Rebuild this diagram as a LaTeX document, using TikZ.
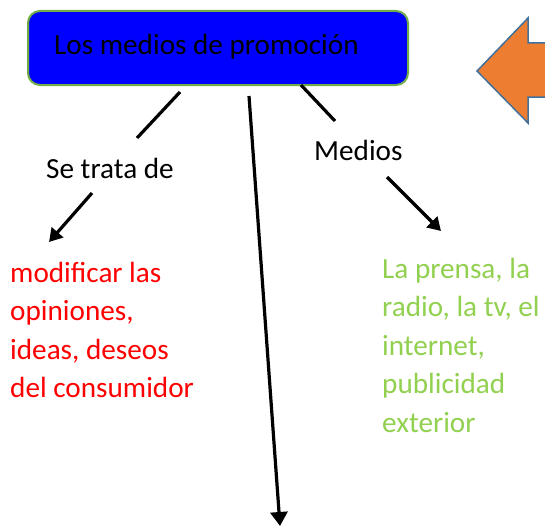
\documentclass[tikz,border=0pt]{standalone}
\usepackage{fontspec}
\setmainfont{Carlito}
\usetikzlibrary{arrows.meta}
\definecolor{boxblue}{RGB}{0,0,255}
\definecolor{boxgreen}{RGB}{112,173,71}
\definecolor{txtgreen}{RGB}{146,208,80}
\definecolor{arrorange}{RGB}{237,125,49}
\definecolor{arrblue}{RGB}{65,113,156}
\tikzset{
  titlebox/.style={draw=boxgreen, line width=2pt, fill=boxblue, rounded corners=12pt,
    minimum width=380pt, minimum height=74pt, inner sep=0pt},
  lbl/.style={inner sep=0pt, font=\fontsize{29.2}{38.5}\selectfont, align=left},
  conn/.style={line width=3.2pt},
  arr/.style={line width=3.2pt, -{Triangle[length=13pt,width=15pt]}},
  bigarr/.style={line width=3.2pt, -{Triangle[length=14pt,width=17pt]}},
}
\begin{document}
\begin{tikzpicture}[x=1pt,y=-1pt]
\clip (0,0) rectangle (545,527);
\fill[white] (0,0) rectangle (545,527);
% title box
\node[titlebox] (box) at (218,48) {};
\node[lbl, anchor=base west] (title) at (54,55) {Los medios de promoción};
% labels
\node[lbl, anchor=base west] (setrata) at (46,178) {Se trata de};
\node[lbl, anchor=base west] (medios) at (314,160) {Medios};
% multi-line nodes: base anchor is the baseline of the last line
\node[lbl, anchor=base west, text=red] (red) at (10,397.5)
  {modificar las\\opiniones,\\ideas, deseos\\del consumidor};
\node[lbl, anchor=base west, text=txtgreen] (green) at (382,432)
  {La prensa, la\\radio, la tv, el\\internet,\\publicidad\\exterior};
% connector end points
\coordinate (a1) at (180,92);
\coordinate (a2) at (137,138);
\coordinate (b1) at (92,193);
\coordinate (b2) at (49,242);
\coordinate (c1) at (249,96);
\coordinate (c2) at (280,526);
\coordinate (d1) at (301,85);
\coordinate (d2) at (335,121);
\coordinate (e1) at (387,177);
\coordinate (e2) at (441,231);
\draw[conn] (a1) -- (a2);
\draw[arr] (b1) -- (b2);
\draw[bigarr] (c1) -- (c2);
\draw[conn] (d1) -- (d2);
\draw[arr] (e1) -- (e2);
% orange block arrow
\draw[fill=arrorange, draw=arrblue, line width=1.5pt, line join=miter]
  (477,71) -- (528,18) -- (528,43) -- (560,43) -- (560,97) -- (528,97) -- (528,123) -- cycle;
\end{tikzpicture}
\end{document}
